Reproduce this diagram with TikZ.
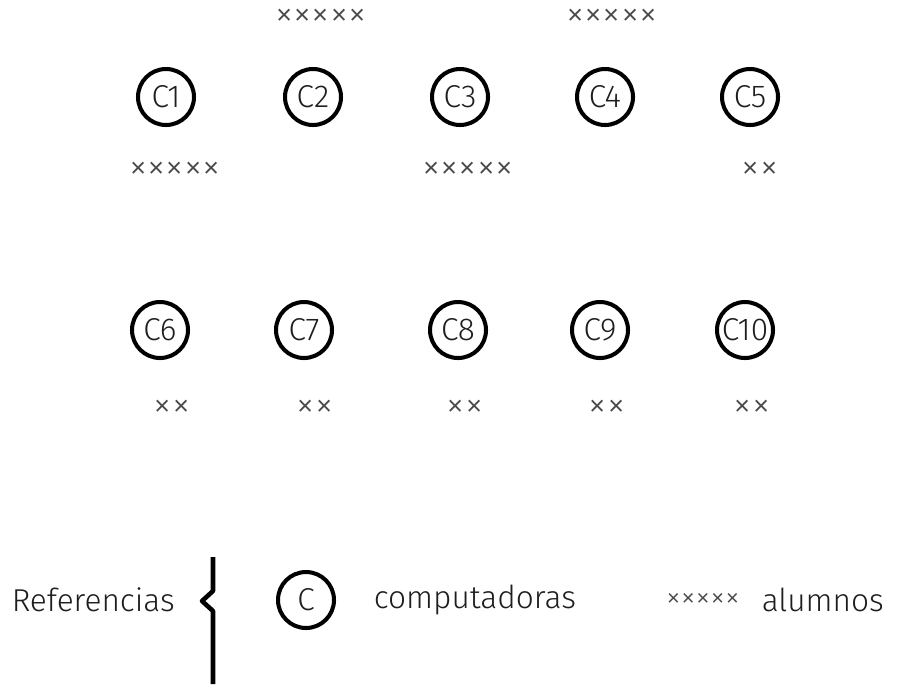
\documentclass[tikz,border=0pt]{standalone}
\usepackage{fontspec}
\setmainfont{Fira Sans Light}
\usetikzlibrary{positioning}
\definecolor{cgrey}{HTML}{4A4A4A}
\definecolor{cink}{HTML}{1E1E1E}
\tikzset{
  every picture/.style={line width=2.3pt},
  pc/.style={circle, draw=black, minimum size=1.12cm, inner sep=0pt, text=cink, font=\fontsize{18}{20}\selectfont},
  marks/.style={text=cgrey, inner sep=0pt, text height=8pt, text depth=0pt, font=\fontsize{21}{23}\selectfont},
  legend/.style={text=cink, inner sep=1pt, font=\fontsize{18}{21}\selectfont},
}

\begin{document}
\begin{tikzpicture}[x=0.02cm, y=-0.02cm]
  \useasboundingbox (0,0) rectangle (918,684);
  % computers, two rows
  \foreach \i/\xx in {1/166,2/313,3/460,4/605,5/750} {\node[pc] (c\i) at (\xx,97) {C\i};}
  \foreach \i/\xx in {6/160,7/304,8/458,9/600,10/745} {\node[pc] (c\i) at (\xx,330) {C\i};}
  % students
  \node[marks] (m2) at (321,19) {×××××};
  \node[marks] (m4) at (612,19) {×××××};
  \node[marks] (m1) at (175,172) {×××××};
  \node[marks] (m3) at (468,172) {×××××};
  \node[marks] (m5) at (760,172) {××};
  \foreach \i/\xx in {6/172,7/315,8/465,9/607,10/752} {\node[marks] (m\i) at (\xx,410) {××};}
  % legend
  \node[legend, anchor=west] (ref) at (8,600) {Referencias};
  \draw[line width=2.6pt, line join=round] (213,557) -- (213,591) -- (202,601) -- (213,611) -- (213,684);
  \node[pc] (lc) at (306,600) {C};
  \node[legend, anchor=west] (comp) at (370,600) {computadoras};
  \node[marks, font=\fontsize{17}{19}\selectfont] (lx) at (703,600) {×××××};
  \node[legend, anchor=west] (alum) at (758,600) {alumnos};
\end{tikzpicture}
\end{document}
